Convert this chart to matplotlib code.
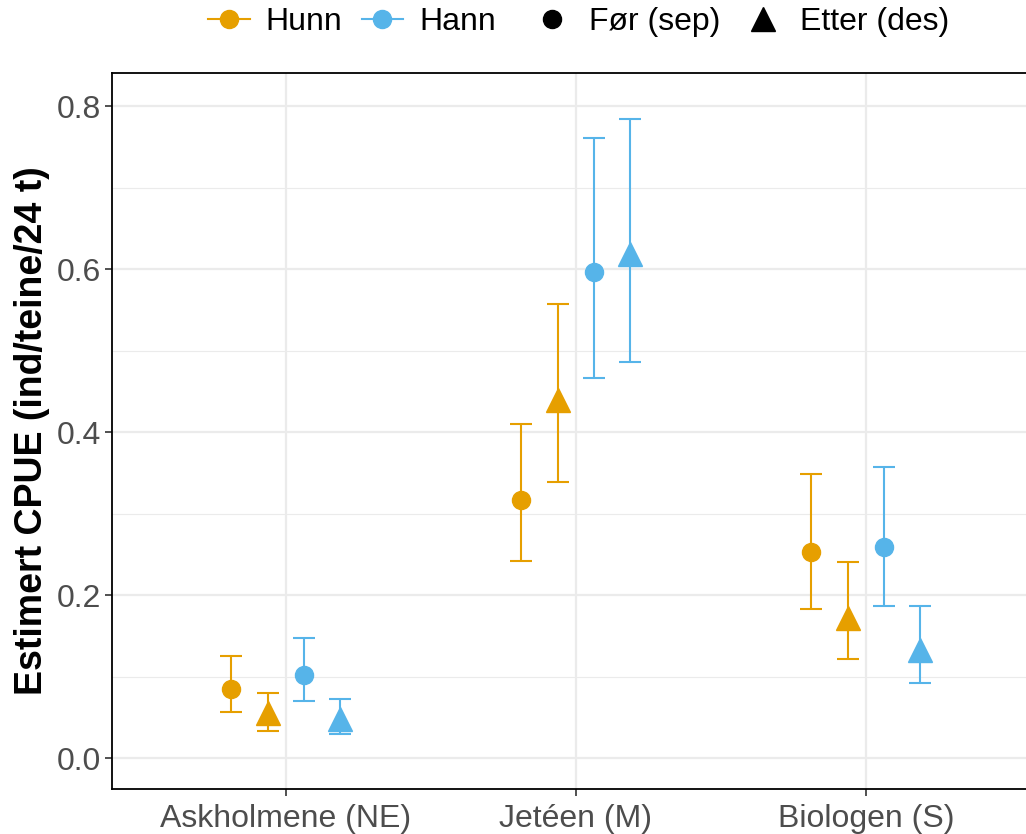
import matplotlib.pyplot as plt
from matplotlib.lines import Line2D
import numpy as np

plt.rcParams['font.family'] = ['Liberation Sans', 'DejaVu Sans']

sites = ['Askholmene (NE)', 'Jetéen (M)', 'Biologen (S)']

# estimates with lower / upper CI
hunn_for = [0.085, 0.316, 0.253]
hunn_for_lo = [0.057, 0.242, 0.183]
hunn_for_hi = [0.125, 0.410, 0.349]

hunn_etter = [0.055, 0.439, 0.172]
hunn_etter_lo = [0.033, 0.339, 0.121]
hunn_etter_hi = [0.080, 0.557, 0.240]

hann_for = [0.102, 0.596, 0.259]
hann_for_lo = [0.070, 0.466, 0.187]
hann_for_hi = [0.147, 0.761, 0.357]

hann_etter = [0.048, 0.618, 0.133]
hann_etter_lo = [0.029, 0.486, 0.092]
hann_etter_hi = [0.072, 0.784, 0.187]

orange = '#E69F00'
blue = '#56B4E9'

fig = plt.figure(figsize=(10.26, 8.34), dpi=100)
ax = fig.add_axes([112/1026, 1-789/834, 1-112/1026, (789-73)/834])

x = np.arange(len(sites))
series = [
    (hunn_for, hunn_for_lo, hunn_for_hi, orange, 'o', 13, -0.19),
    (hunn_etter, hunn_etter_lo, hunn_etter_hi, orange, '^', 17, -0.063),
    (hann_for, hann_for_lo, hann_for_hi, blue, 'o', 13, 0.062),
    (hann_etter, hann_etter_lo, hann_etter_hi, blue, '^', 17, 0.188),
]
for vals, lo, hi, col, mk, ms, off in series:
    vals = np.array(vals)
    yerr = [vals - np.array(lo), np.array(hi) - vals]
    ax.errorbar(x + off, vals, yerr=yerr, fmt=mk, color=col, ms=ms,
                elinewidth=1.5, capsize=8, capthick=1.5, zorder=3)

ax.set_xlim(-0.6, 2.552)
ax.set_ylim(-0.038, 0.8405)
ax.set_xticks(x)
ax.set_xticklabels(sites)
ax.set_yticks([0.0, 0.2, 0.4, 0.6, 0.8])
ax.set_yticklabels(['0.0', '0.2', '0.4', '0.6', '0.8'])
ax.set_yticks([0.1, 0.3, 0.5, 0.7], minor=True)

ax.grid(True, which='major', color='#EBEBEB', linewidth=1.6, zorder=0)
ax.grid(True, which='minor', axis='y', color='#EBEBEB', linewidth=0.8, zorder=0)
ax.set_axisbelow(True)

for s in ['left', 'bottom', 'top']:
    ax.spines[s].set_color('black')
    ax.spines[s].set_linewidth(1.3)
ax.spines['right'].set_visible(False)

ax.tick_params(axis='both', which='major', labelsize=23, colors='#333333',
               labelcolor='#4D4D4D', length=5, width=1.2, pad=3)
ax.tick_params(axis='x', which='major', pad=6)
ax.tick_params(axis='y', which='minor', length=0)

ax.set_ylabel('Estimert CPUE (ind/teine/24 t)', fontsize=27, fontweight='bold',
              labelpad=5)

h1 = [Line2D([0], [0], color=orange, marker='o', ms=13, lw=1.5),
      Line2D([0], [0], color=blue, marker='o', ms=13, lw=1.5)]
fig.legend(h1, ['Hunn', 'Hann'], loc='center', bbox_to_anchor=(0.343, 0.974),
           ncol=2, frameon=False, fontsize=23, handlelength=1.3,
           handletextpad=0.5, columnspacing=0.6)
h2 = [Line2D([0], [0], color='black', marker='o', ms=13, lw=0),
      Line2D([0], [0], color='black', marker='^', ms=17, lw=0)]
fig.legend(h2, ['Før (sep)', 'Etter (des)'], loc='center', bbox_to_anchor=(0.72, 0.974),
           ncol=2, frameon=False, fontsize=23, handlelength=1.5,
           handletextpad=0.4, columnspacing=0.6)

fig.savefig('out.png', dpi=100)
